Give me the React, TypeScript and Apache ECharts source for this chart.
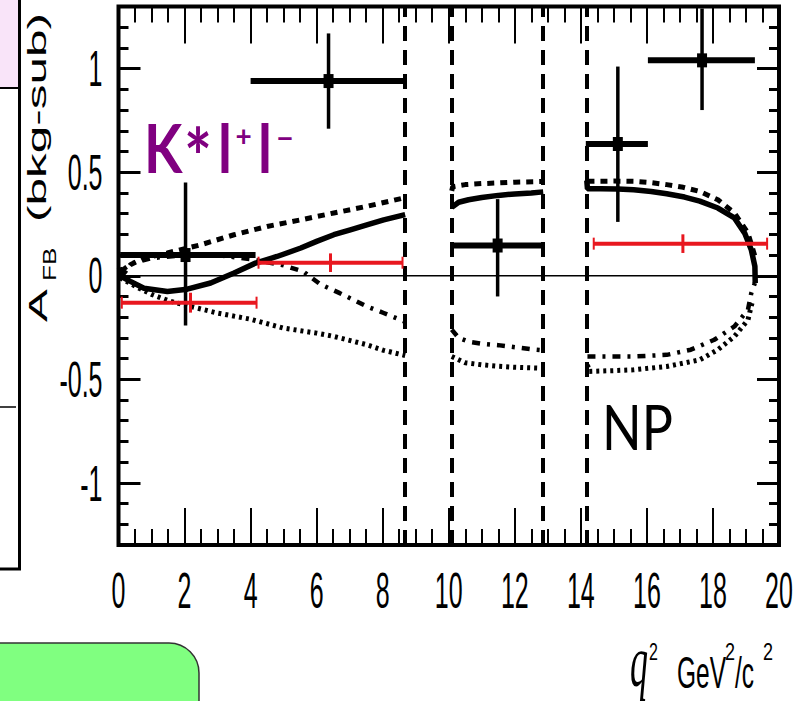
import React, { useEffect, useRef } from "react";
import * as echarts from "echarts";

// ---------- axes ----------
const X_MIN = 0;
const X_MAX = 20;
const Y_MIN = -1.3;
const Y_MAX = 1.3;
const xTickValues = [0, 2, 4, 6, 8, 10, 12, 14, 16, 18, 20];
const xTickLabels = ["0", "2", "4", "6", "8", "10", "12", "14", "16", "18", "20"];
const yTickValues = [-1, -0.5, 0, 0.5, 1];
const yTickLabels = ["-1", "-0.5", "0", "0.5", "1"];

// charmonium veto boundaries (GeV^2/c^2)
const vetoEdges = [8.68, 10.09, 12.86, 14.18];

// ---------- measured A_FB (black) ----------
const dataCenters = [2.03, 6.36, 11.48, 15.12, 17.67];
const dataBinLow = [0.05, 4.0, 10.05, 14.15, 16.03];
const dataBinHigh = [4.15, 8.68, 12.86, 16.03, 19.27];
const dataAfb = [0.1, 0.94, 0.146, 0.636, 1.04];
const dataErrLow = [-0.24, 0.71, -0.1, 0.26, 0.8];
const dataErrHigh = [0.45, 1.17, 0.37, 1.01, 1.29];

// ---------- red points ----------
const redCenters = [2.18, 6.42, 17.09];
const redBinLow = [0.1, 4.24, 14.39];
const redBinHigh = [4.18, 8.6, 19.64];
const redAfb = [-0.13, 0.063, 0.155];
const redErr = [0.048, 0.045, 0.045];

// ---------- theory curves ----------
const solidLow = [[0.03, 0.04], [0.1, -0.005], [0.36, -0.027], [0.77, -0.06], [1.48, -0.076], [2.08, -0.065], [2.79, -0.035], [3.5, 0.013], [4.15, 0.061], [4.8, 0.093], [5.52, 0.134], [6.0, 0.166], [6.52, 0.198], [7.02, 0.222], [7.52, 0.246], [8.03, 0.27], [8.68, 0.295]];
const solidMid = [[10.09, 0.33], [10.3, 0.355], [10.6, 0.367], [11.0, 0.378], [11.5, 0.388], [12.0, 0.395], [12.5, 0.4], [12.86, 0.405]];
const solidHigh = [[14.18, 0.46], [14.2, 0.42], [14.6, 0.42], [15.12, 0.419], [15.6, 0.415], [16.13, 0.407], [16.6, 0.396], [17.14, 0.38], [17.6, 0.36], [18.15, 0.327], [18.65, 0.279], [18.96, 0.206], [19.16, 0.126], [19.27, 0.045], [19.28, -0.035]];

const dashLow = [[0.1, 0.0], [0.36, 0.053], [0.77, 0.085], [1.48, 0.11], [2.5, 0.15], [3.5, 0.198], [4.5, 0.238], [5.52, 0.27], [6.52, 0.303], [7.52, 0.335], [8.62, 0.375]];
const dashMid = [[10.09, 0.41], [10.12, 0.43], [10.5, 0.44], [11.0, 0.445], [11.5, 0.448], [12.0, 0.452], [12.86, 0.455]];
const dashHigh = [[14.2, 0.456], [15.0, 0.457], [15.6, 0.456], [16.1, 0.45], [16.6, 0.44], [17.1, 0.427], [17.6, 0.407], [18.15, 0.367], [18.65, 0.303], [19.06, 0.206], [19.27, 0.094]];

const dashDotLow = [[0.05, 0.02], [0.4, 0.06], [1.0, 0.085], [2.0, 0.1], [3.0, 0.1], [4.0, 0.08], [5.0, 0.05], [5.6, 0.02], [6.1, -0.04], [6.7, -0.084], [7.52, -0.148], [8.03, -0.18], [8.65, -0.22]];
const dashDotMid = [[10.09, -0.26], [10.3, -0.3], [10.6, -0.318], [11.0, -0.328], [11.5, -0.335], [12.0, -0.345], [12.5, -0.355], [12.86, -0.36]];
const dashDotHigh = [[14.2, -0.39], [15.0, -0.39], [15.6, -0.39], [16.6, -0.382], [17.33, -0.357], [18.04, -0.309], [18.65, -0.245], [19.06, -0.164], [19.16, -0.084], [19.27, -0.035]];

const dotLow = [[0.05, -0.01], [0.5, -0.05], [1.0, -0.09], [1.5, -0.12], [2.18, -0.148], [2.99, -0.18], [4.0, -0.21], [5.0, -0.253], [6.0, -0.277], [6.52, -0.293], [7.52, -0.333], [8.03, -0.36], [8.68, -0.385]];
const dotMid = [[10.09, -0.39], [10.5, -0.42], [11.0, -0.43], [11.5, -0.437], [12.0, -0.442], [12.86, -0.447]];
const dotHigh = [[14.2, -0.43], [14.25, -0.462], [15.0, -0.458], [15.6, -0.454], [16.6, -0.438], [17.6, -0.406], [18.15, -0.357], [18.65, -0.293], [19.06, -0.213], [19.2, -0.12]];

const RED = "#e8171f";
const PURPLE = "#800080";
const SANS = "Liberation Sans, Arial, sans-serif";
const ROUND = "Lato, sans-serif";

function errBar(color: string, hWidth: number, vWidth: number, marker: boolean, caps: boolean) {
  return (params: any, api: any) => {
    const x = api.value(0), xl = api.value(1), xh = api.value(2);
    const y = api.value(3), yl = api.value(4), yh = api.value(5);
    const c = api.coord([x, y]);
    const l = api.coord([xl, y]);
    const r = api.coord([xh, y]);
    const t = api.coord([x, yh]);
    const b = api.coord([x, yl]);
    const children: any[] = [
      { type: "line", shape: { x1: l[0], y1: l[1], x2: r[0], y2: r[1] }, style: { stroke: color, lineWidth: hWidth } },
      { type: "line", shape: { x1: t[0], y1: t[1], x2: b[0], y2: b[1] }, style: { stroke: color, lineWidth: vWidth } },
    ];
    if (marker) {
      children.push({ type: "rect", shape: { x: c[0] - 5, y: c[1] - 7, width: 10, height: 14 }, style: { fill: color } });
    }
    if (caps) {
      children.push({ type: "line", shape: { x1: l[0], y1: l[1] - 6, x2: l[0], y2: l[1] + 6 }, style: { stroke: color, lineWidth: 2 } });
      children.push({ type: "line", shape: { x1: r[0], y1: r[1] - 6, x2: r[0], y2: r[1] + 6 }, style: { stroke: color, lineWidth: 2 } });
    }
    return { type: "group", children };
  };
}

function curve(data: number[][], type: any, width: number) {
  return {
    type: "line",
    data,
    showSymbol: false,
    symbol: "none",
    silent: true,
    lineStyle: { color: "#000", width, type, cap: "butt" },
    z: 3,
  };
}

const tickAxisX = (position: string) => ({
  type: "value",
  min: X_MIN,
  max: X_MAX,
  interval: 2,
  position,
  axisLine: { show: false, onZero: false },
  axisLabel: { show: false },
  splitLine: { show: false },
  axisTick: { show: true, inside: true, length: 37, lineStyle: { color: "#000", width: 2 } },
  minorTick: { show: true, splitNumber: 4, length: 16, lineStyle: { color: "#000", width: 2 } },
});

const tickAxisYMajor = (position: string) => ({
  type: "value",
  min: Y_MIN,
  max: Y_MAX,
  splitNumber: 5,
  position,
  axisLine: { show: false, onZero: false },
  axisLabel: { show: false },
  splitLine: { show: false },
  axisTick: { show: true, inside: true, length: 22, lineStyle: { color: "#000", width: 3 } },
});

const tickAxisYMinor = (position: string) => ({
  type: "value",
  min: Y_MIN,
  max: Y_MAX,
  interval: 0.1,
  position,
  axisLine: { show: false, onZero: false },
  axisLabel: { show: false },
  splitLine: { show: false },
  axisTick: { show: true, inside: true, length: 10, lineStyle: { color: "#000", width: 3 } },
});

function buildOption(): any {
  const blackData = dataCenters.map((x, i) => [x, dataBinLow[i], dataBinHigh[i], dataAfb[i], dataErrLow[i], dataErrHigh[i]]);
  const redData = redCenters.map((x, i) => [x, redBinLow[i], redBinHigh[i], redAfb[i], redAfb[i] - redErr[i], redAfb[i] + redErr[i]]);

  const txt = (text: string, x: number, y: number, opts: any = {}) => ({
    type: "text",
    x,
    y,
    rotation: opts.rotation || 0,
    scaleX: opts.scaleX || 1,
    scaleY: opts.scaleY || 1,
    silent: true,
    z: 20,
    style: {
      text,
      fill: opts.fill || "#000",
      fontSize: opts.fontSize || 25,
      fontFamily: opts.fontFamily || SANS,
      fontWeight: opts.fontWeight || "normal",
      fontStyle: opts.fontStyle || "normal",
      align: opts.align || "left",
      verticalAlign: opts.verticalAlign || "middle",
    },
  });

  const purple = { fontFamily: ROUND, fontWeight: "bold", fill: PURPLE };

  return {
    animation: false,
    backgroundColor: "#fff",
    grid: {
      left: 118.5,
      right: 17,
      top: 6.5,
      bottom: 156,
      show: true,
      borderColor: "#000",
      borderWidth: 4,
      backgroundColor: "transparent",
    },
    xAxis: [tickAxisX("bottom"), tickAxisX("top")],
    yAxis: [tickAxisYMajor("left"), tickAxisYMinor("left"), tickAxisYMajor("right"), tickAxisYMinor("right")],
    series: [
      {
        type: "line",
        data: [[X_MIN, 0], [X_MAX, 0]],
        showSymbol: false,
        symbol: "none",
        silent: true,
        lineStyle: { color: "#000", width: 1.5 },
        z: 2,
        markLine: {
          silent: true,
          symbol: ["none", "none"],
          label: { show: false },
          lineStyle: { color: "#000", width: 4, type: [15, 9] },
          data: vetoEdges.map((v) => ({ xAxis: v })),
        },
      },
      curve(solidLow, "solid", 5.5),
      curve(solidMid, "solid", 5.5),
      curve(solidHigh, "solid", 5.5),
      curve(dashLow, [7, 6], 5),
      curve(dashMid, [7, 6], 5),
      curve(dashHigh, [7, 6], 5),
      curve(dashDotLow, [8, 7, 3, 7], 4.5),
      curve(dashDotMid, [8, 7, 3, 7], 4.5),
      curve(dashDotHigh, [8, 7, 3, 7], 4.5),
      curve(dotLow, [3, 4], 5),
      curve(dotMid, [3, 4], 5),
      curve(dotHigh, [3, 4], 5),
      {
        type: "custom",
        name: "data",
        silent: true,
        z: 6,
        data: blackData,
        encode: { x: [0, 1, 2], y: [3, 4, 5] },
        renderItem: errBar("#000", 6, 3.5, true, false),
      },
      {
        type: "custom",
        name: "red",
        silent: true,
        z: 7,
        data: redData,
        encode: { x: [0, 1, 2], y: [3, 4, 5] },
        renderItem: errBar(RED, 4, 3, false, true),
      },
      {
        type: "custom",
        name: "xTickLabels",
        silent: true,
        clip: false,
        z: 10,
        data: xTickValues.map((v) => [v, Y_MIN]),
        renderItem: (params: any, api: any) => {
          const p = api.coord([api.value(0), api.value(1)]);
          return {
            type: "text",
            x: p[0],
            y: p[1] + 45,
            scaleY: 2,
            style: { text: xTickLabels[params.dataIndex], fill: "#000", fontSize: 25, fontFamily: SANS, align: "center", verticalAlign: "middle" },
          };
        },
      },
      {
        type: "custom",
        name: "yTickLabels",
        silent: true,
        clip: false,
        z: 10,
        data: yTickValues.map((v) => [X_MIN, v]),
        renderItem: (params: any, api: any) => {
          const p = api.coord([api.value(0), api.value(1)]);
          return {
            type: "text",
            x: p[0] - 16,
            y: p[1],
            scaleY: 2,
            style: { text: yTickLabels[params.dataIndex], fill: "#000", fontSize: 25, fontFamily: SANS, align: "right", verticalAlign: "middle" },
          };
        },
      },
    ],
    graphic: [
      // neighbouring panel fragments
      { type: "rect", silent: true, z: 1, shape: { x: -3, y: -3, width: 22, height: 91 }, style: { fill: "#f9e4f9", stroke: "#000", lineWidth: 2 } },
      { type: "line", silent: true, z: 1, shape: { x1: 19.5, y1: 0, x2: 19.5, y2: 569 }, style: { stroke: "#000", lineWidth: 3 } },
      { type: "line", silent: true, z: 1, shape: { x1: 0, y1: 569, x2: 21, y2: 569 }, style: { stroke: "#000", lineWidth: 3 } },
      { type: "line", silent: true, z: 1, shape: { x1: 0, y1: 407, x2: 16, y2: 407 }, style: { stroke: "#000", lineWidth: 1.5 } },
      { type: "rect", silent: true, z: 1, shape: { x: -10, y: 643, width: 209, height: 80, r: [0, 30, 0, 0] }, style: { fill: "#80ff80", stroke: "#333", lineWidth: 1.5 } },
      // y-axis title
      txt("A", 37.5, 322, { rotation: Math.PI / 2, scaleX: 1.9, fontSize: 26 }),
      txt("FB", 49.5, 281, { rotation: Math.PI / 2, scaleX: 1.45, fontSize: 18 }),
      txt("(bkg-sub)", 37.5, 222, { rotation: Math.PI / 2, scaleX: 1.98 }),
      // x-axis title
      txt("q", 630, 661, { scaleY: 2, fontSize: 36, fontFamily: "Liberation Serif, serif", fontStyle: "italic" }),
      txt("2", 649, 651.5, { scaleY: 1.5, fontSize: 16 }),
      txt("GeV", 677, 673, { scaleY: 1.8, fontSize: 24.5 }),
      txt("2", 725, 652, { scaleY: 1.35, fontSize: 18 }),
      txt("/c", 735, 673, { scaleY: 1.8, fontSize: 24.5 }),
      txt("2", 763, 652, { scaleY: 1.35, fontSize: 18 }),
      // annotations
      txt("K", 144, 147, { scaleY: 1.2, fontSize: 56, ...purple }),
      txt("*", 198, 156, { scaleY: 1.2, fontSize: 66, ...purple, align: "center" }),
      txt("l", 225, 147, { scaleY: 1.2, fontSize: 56, ...purple, align: "center" }),
      txt("+", 243.5, 135, { fontSize: 28, ...purple, align: "center" }),
      txt("l", 265, 147, { scaleY: 1.2, fontSize: 56, ...purple, align: "center" }),
      txt("\u2212", 285, 137, { fontSize: 30, ...purple, align: "center" }),
      txt("NP", 602, 426, { scaleY: 1.2, fontSize: 52, fontFamily: ROUND }),
    ],
  };
}

export default function App() {
  const ref = useRef<HTMLDivElement>(null);
  useEffect(() => {
    if (!ref.current) return;
    const chart = echarts.init(ref.current, null, { renderer: "svg" });
    chart.setOption(buildOption());
    return () => chart.dispose();
  }, []);
  return <div ref={ref} style={{ position: "absolute", left: 0, top: 0, width: 796, height: 701 }} />;
}
